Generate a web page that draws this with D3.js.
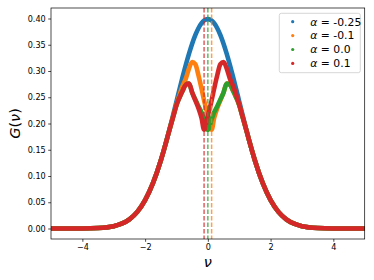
<!DOCTYPE html>
<html>
<head>
<meta charset="utf-8">
<script src="https://cdn.jsdelivr.net/npm/d3@7"></script>
<style>
  body { margin: 0; background: #fff; }
  text { font-family: "DejaVu Sans", sans-serif; fill: #000; }
</style>
</head>
<body>
<svg width="374" height="280"></svg>
<script>
// shared nu grid
var nu = [-5, -4.5, -4, -3.5, -3, -2.75, -2.5, -2.25, -2, -1.75, -1.5, -1.4, -1.3, -1.2, -1.1, -1.0, -0.9, -0.8, -0.7, -0.6, -0.5, -0.4, -0.3, -0.2, -0.12,
          0, 0.12, 0.2, 0.3, 0.4, 0.5, 0.6, 0.7, 0.8, 0.9, 1.0, 1.1, 1.2, 1.3, 1.4, 1.5, 1.75, 2, 2.25, 2.5, 2.75, 3, 3.5, 4, 4.5, 5];

var tails_left = [0, 0, 0.0001, 0.0009, 0.0044, 0.0091, 0.0175, 0.0317, 0.054, 0.0863, 0.1295, 0.1497, 0.1714];
var tails_right = [0.1714, 0.1497, 0.1295, 0.0863, 0.054, 0.0317, 0.0175, 0.0091, 0.0044, 0.0009, 0.0001, 0, 0];

var g_m025 = tails_left.concat([0.1942, 0.2179, 0.2420, 0.2661, 0.2897, 0.3123, 0.3332, 0.3521, 0.3683, 0.3814, 0.3910, 0.3961,
             0.3989, 0.3961, 0.3910, 0.3814, 0.3683, 0.3521, 0.3332, 0.3123, 0.2897, 0.2661, 0.2420, 0.2179, 0.1942]).concat(tails_right);
var g_m01 = tails_left.concat([0.193, 0.215, 0.236, 0.255, 0.272, 0.286, 0.305, 0.317, 0.313, 0.292, 0.266, 0.244,
             0.215, 0.188, 0.21, 0.229, 0.244, 0.259, 0.276, 0.274, 0.263, 0.25, 0.235, 0.214, 0.193]).concat(tails_right);
var g_00 = tails_left.concat([0.193, 0.214, 0.235, 0.25, 0.263, 0.274, 0.276, 0.259, 0.246, 0.233, 0.221, 0.208,
             0.188, 0.208, 0.221, 0.233, 0.246, 0.259, 0.276, 0.274, 0.263, 0.25, 0.235, 0.214, 0.193]).concat(tails_right);
var g_01 = tails_left.concat([0.193, 0.214, 0.235, 0.25, 0.263, 0.274, 0.276, 0.259, 0.244, 0.229, 0.21, 0.188,
             0.215, 0.244, 0.266, 0.292, 0.313, 0.317, 0.305, 0.286, 0.272, 0.255, 0.236, 0.215, 0.193]).concat(tails_right);

var labels = ["-0.25", "-0.1", "0.0", "0.1"];
var colors = ["#1f77b4", "#ff7f0e", "#2ca02c", "#d62728"];
var minima = [-0.12, 0, 0.12];
var minimaColors = ["#d62728", "#2ca02c", "#ff7f0e"];
var xTicks = [-4, -2, 0, 2, 4];
var yTicks = [0, 0.05, 0.10, 0.15, 0.20, 0.25, 0.30, 0.35, 0.40];

var svg = d3.select("svg"),
    pl = 51, pr = 364.7, pt = 8, pb = 239;

var x = d3.scaleLinear().domain([-5, 5]).range([pl, pr]);
var y = d3.scaleLinear().domain([-0.02, 0.42]).range([pb, pt]);

var series = [g_m025, g_m01, g_00, g_01];

svg.append("defs").append("clipPath").attr("id", "clip")
    .append("rect").attr("x", pl).attr("y", pt).attr("width", pr - pl).attr("height", pb - pt);

var plot = svg.append("g").attr("clip-path", "url(#clip)");

var line = d3.line()
    .x(function (d, i) { return x(nu[i]); })
    .y(function (d) { return y(d); })
    .curve(d3.curveMonotoneX);

series.forEach(function (s, k) {
    plot.append("path")
        .attr("d", line(s))
        .attr("fill", "none")
        .attr("stroke", colors[k])
        .attr("stroke-width", 4.6)
        .attr("stroke-linejoin", "round")
        .attr("stroke-linecap", "round");
});

minima.forEach(function (m, k) {
    plot.append("line")
        .attr("x1", x(m)).attr("x2", x(m))
        .attr("y1", pt).attr("y2", pb)
        .attr("stroke", minimaColors[k])
        .attr("stroke-opacity", 0.75)
        .attr("stroke-width", 1.5)
        .attr("stroke-dasharray", "4.5,2");
});

// axes
var xAxis = svg.append("g").attr("transform", "translate(0," + pb + ")")
    .call(d3.axisBottom(x).tickValues(xTicks).tickSize(2.8).tickPadding(2.5)
        .tickFormat(function (d) { return d < 0 ? "\u2212" + Math.abs(d) : d; }));
var yAxis = svg.append("g").attr("transform", "translate(" + pl + ",0)")
    .call(d3.axisLeft(y).tickValues(yTicks).tickSize(2.8).tickPadding(2.5).tickFormat(d3.format(".2f")));

[xAxis, yAxis].forEach(function (a) {
    a.select(".domain").remove();
    a.selectAll("line").attr("stroke", "#000").attr("stroke-width", 0.7);
    a.selectAll("text").attr("font-size", "8.1px").attr("font-family", "DejaVu Sans").attr("fill", "#000");
});

svg.append("rect")
    .attr("x", pl).attr("y", pt).attr("width", pr - pl).attr("height", pb - pt)
    .attr("fill", "none").attr("stroke", "#000").attr("stroke-width", 0.7);

// axis labels
svg.append("text")
    .attr("x", x(0)).attr("y", 267)
    .attr("text-anchor", "middle")
    .attr("font-size", "14.5px").attr("font-style", "italic")
    .text("\u03bd");

var yl = svg.append("text")
    .attr("transform", "translate(20," + ((pt + pb) / 2) + ") rotate(-90)")
    .attr("text-anchor", "middle")
    .attr("font-size", "14.5px");
yl.append("tspan").attr("font-style", "italic").text("G");
yl.append("tspan").text("(");
yl.append("tspan").attr("font-style", "italic").text("\u03bd");
yl.append("tspan").text(")");

// legend
var lg = svg.append("g");
lg.append("rect")
    .attr("x", 279.3).attr("y", 13.3).attr("width", 81).attr("height", 59.4)
    .attr("rx", 2).attr("fill", "#fff").attr("fill-opacity", 0.8)
    .attr("stroke", "#ccc").attr("stroke-width", 0.8);

labels.forEach(function (l, k) {
    var yy = 21.7 + k * 13.9;
    lg.append("circle").attr("cx", 292.7).attr("cy", yy).attr("r", 1.6).attr("fill", colors[k]);
    var t = lg.append("text").attr("x", 310.3).attr("y", yy + 3.8).attr("font-size", "10.8px");
    t.append("tspan").attr("font-style", "italic").text("\u03b1");
    t.append("tspan").text(" = " + l);
});
</script>
</body>
</html>
